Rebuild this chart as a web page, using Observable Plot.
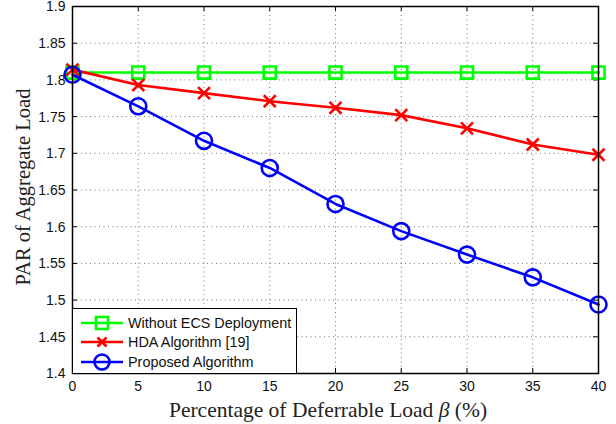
<!DOCTYPE html>
<html><head><meta charset="utf-8">
<script src="https://cdn.jsdelivr.net/npm/d3@7"></script>
<script src="https://cdn.jsdelivr.net/npm/@observablehq/plot@0.6"></script>
<style>
body{margin:0;background:#fff;}
#wrap{position:relative;width:616px;height:424px;}
#wrap svg text{font-size:14px;font-family:"Liberation Sans",Arial,sans-serif;fill:#111;}
.lbl{position:absolute;font-family:"Liberation Serif","DejaVu Serif",serif;font-size:20.5px;color:#222;white-space:nowrap;}
#xl{font-size:21.5px;}
#legend{position:absolute;background:#fff;border:1.5px solid #000;font-family:"Liberation Sans",Arial,sans-serif;font-size:14.4px;color:#111;box-sizing:border-box;padding:4px 0 0 8px;}
#legend .row{display:flex;align-items:center;height:19.5px;}
#legend svg{margin-right:5px;}
</style>
</head><body>
<div id="wrap"></div>
<script>
const beta = [0, 5, 10, 15, 20, 25, 30, 35, 40];
const withoutECS = [1.81, 1.81, 1.81, 1.81, 1.81, 1.81, 1.81, 1.81, 1.81];
const hda = [1.814, 1.793, 1.782, 1.771, 1.762, 1.752, 1.734, 1.712, 1.698];
const proposed = [1.807, 1.764, 1.717, 1.680, 1.631, 1.594, 1.562, 1.531, 1.494];
const xTicks = [0, 5, 10, 15, 20, 25, 30, 35, 40];
const yTicks = [1.4, 1.45, 1.5, 1.55, 1.6, 1.65, 1.7, 1.75, 1.8, 1.85, 1.9];
const seriesNames = ["Without ECS Deployment", "HDA Algorithm [19]", "Proposed Algorithm"];
const colors = ["#00ff00", "#ff0000", "#0000ff"];
const symbols = ["square", "times", "circle"];
const radii = [6.8, 5.5, 8];

const series = [withoutECS, hda, proposed].map((vals, i) =>
  beta.map((b, j) => ({x: b, y: vals[j], s: seriesNames[i]})));

const W = 616, H = 424, mL = 72, mR = 18, mT = 6, mB = 51;
const pw = W - mL - mR, ph = H - mT - mB;

const marks = [
  Plot.gridX(xTicks, {stroke: "#000", strokeOpacity: 0.55, strokeDasharray: "1,3.5", strokeWidth: 1}),
  Plot.gridY(yTicks, {stroke: "#000", strokeOpacity: 0.55, strokeDasharray: "1,3.5", strokeWidth: 1}),
  Plot.tickX(xTicks, {x: d => d, insetTop: ph - 5, stroke: "#000"}),
  Plot.tickX(xTicks, {x: d => d, insetBottom: ph - 5, stroke: "#000"}),
  Plot.tickY(yTicks, {y: d => d, insetRight: pw - 5, stroke: "#000"}),
  Plot.tickY(yTicks, {y: d => d, insetLeft: pw - 5, stroke: "#000"}),
  Plot.axisX({ticks: xTicks, tickSize: 0, tickPadding: 8, tickFormat: d => String(d), label: null}),
  Plot.axisY({ticks: yTicks, tickSize: 0, tickPadding: 7, tickFormat: d => String(d), label: null, dy: 0.5})
];
series.forEach((data, i) => {
  marks.push(Plot.line(data, {x: "x", y: "y", stroke: colors[i], strokeWidth: 2.6}));
  marks.push(Plot.dot(data, {x: "x", y: "y", stroke: colors[i], symbol: () => symbols[i], r: radii[i], strokeWidth: 2.6, fill: "none"}));
});
marks.push(Plot.frame({stroke: "#000", strokeWidth: 1.5}));

const chart = Plot.plot({
  width: W, height: H,
  marginLeft: mL, marginRight: mR, marginTop: mT, marginBottom: mB,
  x: {domain: [0, 40]},
  y: {domain: [1.4, 1.9]},
  symbol: {type: "identity"},
  style: {fontFamily: "'Liberation Sans', Arial, sans-serif", color: "#111", background: "#fff", overflow: "visible"},
  marks
});
const wrap = document.getElementById("wrap");
wrap.appendChild(chart);

const yl = document.createElement("div");
yl.className = "lbl";
yl.textContent = "PAR of Aggregate Load";
yl.style.left = "23px"; yl.style.top = "187px";
yl.style.transform = "translate(-50%,-50%) rotate(-90deg)";
wrap.appendChild(yl);

const xl = document.createElement("div");
xl.className = "lbl"; xl.id = "xl";
xl.innerHTML = "Percentage of Deferrable Load <i>β</i> (%)";
xl.style.left = "328px"; xl.style.top = "410px";
xl.style.transform = "translate(-50%,-50%)";
wrap.appendChild(xl);

const lg = document.createElement("div");
lg.id = "legend";
lg.style.left = (mL) + "px"; lg.style.top = "308px";
lg.style.width = "225px"; lg.style.height = (mT + ph - 308 + 1) + "px";
seriesNames.forEach((name, i) => {
  const row = document.createElement("div");
  row.className = "row";
  const c = colors[i];
  let sym = "";
  if (symbols[i] === "square") sym = `<rect x="15" y="4" width="12" height="12" fill="none" stroke="${c}" stroke-width="2.6"/>`;
  else if (symbols[i] === "times") sym = `<path d="M16.5,5.5L25.5,14.5M25.5,5.5L16.5,14.5" stroke="${c}" stroke-width="2.8"/>`;
  else sym = `<circle cx="21" cy="10" r="7.5" fill="none" stroke="${c}" stroke-width="2.6"/>`;
  row.innerHTML = `<svg width="42" height="20"><line x1="0" y1="10" x2="42" y2="10" stroke="${c}" stroke-width="2.6"/>${sym}</svg><span>${name}</span>`;
  lg.appendChild(row);
});
wrap.appendChild(lg);
</script>
</body></html>
